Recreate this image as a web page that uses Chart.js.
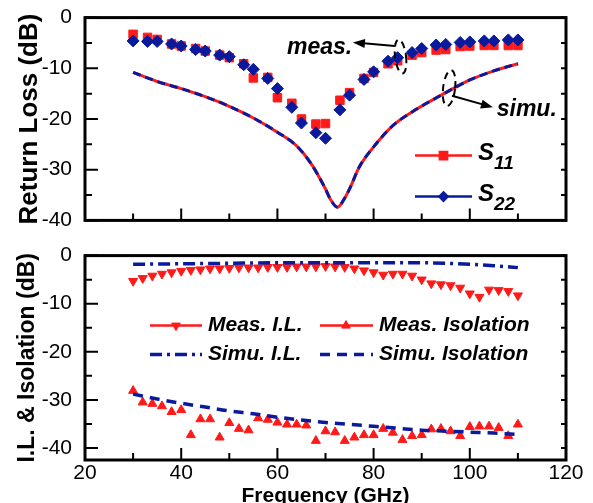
<!DOCTYPE html>
<html>
<head>
<meta charset="utf-8">
<script src="https://cdn.jsdelivr.net/npm/chart.js@4.4.0/dist/chart.umd.min.js"></script>
<style>
html, body { margin: 0; padding: 0; background: #fff; overflow: hidden; }
#wrap { position: relative; width: 593px; height: 503px; }
#topChart { position: absolute; left: 0; top: 0; }
#botChart { position: absolute; left: 0; top: 238px; }
</style>
</head>
<body>
<div id="wrap">
  <canvas id="topChart" width="593" height="238"></canvas>
  <canvas id="botChart" width="593" height="265"></canvas>
</div>
<script>
// return loss, measured
var measFreq = [30, 33, 35, 38, 40, 43, 45, 48, 50, 53, 55, 58, 60, 63, 65, 68, 70, 73, 75, 78, 80, 83, 85, 88, 90, 93, 95, 98, 100, 103, 105, 108, 110];
var s11Meas = [-3.3, -3.9, -4.3, -5.2, -5.6, -6.1, -6.6, -7.4, -7.9, -9.1, -11.9, -11.8, -15.8, -16.9, -20.0, -21.0, -20.9, -16.3, -14.8, -12.0, -10.8, -9.1, -8.5, -7.4, -6.9, -6.4, -6.3, -5.7, -5.6, -5.5, -5.5, -5.5, -5.5];
var s22Meas = [-4.6, -4.7, -4.7, -5.2, -5.6, -6.3, -6.6, -7.4, -7.7, -9.3, -10.2, -12.0, -14.0, -17.7, -20.8, -22.7, -23.8, -18.2, -15.3, -12.2, -10.7, -8.6, -7.9, -6.9, -6.1, -5.4, -5.3, -4.9, -4.8, -4.6, -4.6, -4.4, -4.4];

// return loss, simulated
var simuFreq = [30, 35, 40, 45, 50, 55, 60, 64, 67, 70, 71, 72.5, 74, 75, 77, 80, 84, 88, 95, 100, 105, 110];
var s11Simu = [-10.8, -12.6, -14.0, -15.6, -17.5, -19.8, -22.6, -25.3, -28.8, -33.8, -35.8, -37.4, -35.6, -33.8, -29.5, -25.5, -21.3, -18.6, -14.8, -12.3, -10.5, -9.1];
var s22Simu = [-10.8, -12.6, -14.0, -15.6, -17.5, -19.8, -22.6, -25.3, -28.8, -33.8, -35.8, -37.4, -35.6, -33.8, -29.5, -25.5, -21.3, -18.6, -14.8, -12.3, -10.5, -9.1];

// insertion loss / isolation, measured
var ilFreq = [30, 32, 34, 36, 38, 40, 42, 44, 46, 48, 50, 52, 54, 56, 58, 60, 62, 64, 66, 68, 70, 72, 74, 76, 78, 80, 82, 84, 86, 88, 90, 92, 94, 96, 98, 100, 102, 104, 106, 108, 110];
var measIL = [-5.3, -4.7, -4.2, -3.8, -3.5, -3.2, -3.0, -2.9, -2.7, -2.7, -2.6, -2.5, -2.5, -2.5, -2.4, -2.4, -2.4, -2.3, -2.3, -2.3, -2.2, -2.3, -2.4, -2.7, -3.1, -3.5, -4.0, -3.8, -3.8, -4.2, -5.0, -5.8, -6.0, -6.2, -6.7, -7.9, -8.6, -7.1, -7.2, -7.4, -8.3];
var measIso = [-28.1, -30.5, -30.8, -31.3, -32.5, -32.1, -37.3, -34.0, -34.0, -37.8, -34.8, -36.0, -36.3, -33.8, -34.1, -34.7, -35.1, -35.1, -35.3, -38.5, -36.5, -36.7, -38.5, -37.8, -37.3, -37.3, -36.0, -36.8, -38.3, -37.5, -37.3, -36.1, -36.0, -36.5, -37.5, -35.6, -35.5, -35.5, -35.8, -37.5, -35.1];

// insertion loss / isolation, simulated
var simuIlFreq = [30, 40, 50, 60, 70, 80, 90, 95, 100, 105, 110];
var simuIL = [-1.8, -1.7, -1.6, -1.5, -1.5, -1.5, -1.5, -1.6, -1.8, -2.1, -2.5];
var simuIsoFreq = [30, 35, 40, 45, 50, 55, 60, 65, 70, 75, 80, 85, 90, 95, 100, 105, 110];
var simuIso = [-28.8, -29.8, -30.7, -31.5, -32.3, -32.9, -33.6, -34.2, -34.7, -35.1, -35.5, -35.9, -36.3, -36.5, -36.7, -36.9, -37.2];

var xTicks = [20, 40, 60, 80, 100, 120];
var yTicks = [0, -10, -20, -30, -40];

var RED = '#ff1a1a';
var BLUE = '#0a1a9c';
var FONT = '"Liberation Sans", Arial, sans-serif';

function pts(xs, ys) {
    return xs.map(function (x, i) { return { x: x, y: ys[i] }; });
}

// box, inward ticks on left/bottom/right
var framePlugin = {
    id: 'frame',
    afterDraw: function (chart) {
        var ctx = chart.ctx, a = chart.chartArea;
        var xs = chart.scales.x, ys = chart.scales.y;
        ctx.save();
        ctx.strokeStyle = '#000';
        ctx.lineWidth = 2;
        ctx.beginPath();
        for (var f = 20; f <= 120; f += 10) {
            var x = xs.getPixelForValue(f);
            ctx.moveTo(x, a.bottom);
            ctx.lineTo(x, a.bottom - (f % 20 === 0 ? 12 : 7));
        }
        for (var v = 0; v >= ys.min; v -= 5) {
            var y = ys.getPixelForValue(v);
            ctx.moveTo(a.left, y);
            ctx.lineTo(a.left + (v % 10 === 0 ? 13 : 7), y);
            ctx.moveTo(a.right, y);
            ctx.lineTo(a.right - 5, y);
        }
        ctx.stroke();
        ctx.lineWidth = 3;
        ctx.strokeRect(a.left, a.top, a.right - a.left, a.bottom - a.top);
        ctx.restore();
    }
};

function legendLine(ctx, x1, x2, y, color, dash, width) {
    ctx.save();
    ctx.strokeStyle = color;
    ctx.lineWidth = width;
    ctx.setLineDash(dash);
    ctx.beginPath();
    ctx.moveTo(x1, y);
    ctx.lineTo(x2, y);
    ctx.stroke();
    ctx.restore();
}

function legendMarker(ctx, style, r, rot, x, y, color) {
    ctx.save();
    ctx.fillStyle = color;
    ctx.strokeStyle = color;
    Chart.helpers.drawPoint(ctx, { pointStyle: style, radius: r, rotation: rot, borderWidth: 1 }, x, y);
    ctx.restore();
}

function arrow(ctx, x1, y1, x2, y2) {
    var ang = Math.atan2(y2 - y1, x2 - x1);
    ctx.beginPath();
    ctx.moveTo(x1, y1);
    ctx.lineTo(x2 - Math.cos(ang) * 8, y2 - Math.sin(ang) * 8);
    ctx.stroke();
    ctx.beginPath();
    ctx.moveTo(x2, y2);
    ctx.lineTo(x2 - Math.cos(ang) * 12 + Math.sin(ang) * 4.5, y2 - Math.sin(ang) * 12 - Math.cos(ang) * 4.5);
    ctx.lineTo(x2 - Math.cos(ang) * 12 - Math.sin(ang) * 4.5, y2 - Math.sin(ang) * 12 + Math.cos(ang) * 4.5);
    ctx.closePath();
    ctx.fill();
}

function dashedEllipse(ctx, x, y, rx, ry, rot) {
    ctx.save();
    ctx.setLineDash([7, 5]);
    ctx.beginPath();
    ctx.ellipse(x, y, rx, ry, rot, 0, Math.PI * 2);
    ctx.stroke();
    ctx.restore();
}

var topDecor = {
    id: 'topDecor',
    afterDraw: function (chart) {
        var ctx = chart.ctx, a = chart.chartArea;
        var xs = chart.scales.x, ys = chart.scales.y;
        function X(f) { return xs.getPixelForValue(f); }
        function Y(v) { return ys.getPixelForValue(v); }
        ctx.save();
        ctx.fillStyle = '#000';
        ctx.strokeStyle = '#000';
        ctx.lineWidth = 2;
        ctx.textBaseline = 'middle';
        ctx.textAlign = 'left';
        ctx.font = 'italic bold 23px ' + FONT;
        ctx.fillText('meas.', X(62), Y(-6.0));
        arrow(ctx, X(84.4), Y(-5.6), X(75.7), Y(-4.9));
        dashedEllipse(ctx, X(85.6), Y(-7.7), 5.5, 17, -0.12);
        ctx.fillText('simu.', X(105.6), Y(-18.2));
        arrow(ctx, X(96.3), Y(-15.4), X(104.8), Y(-17.7));
        dashedEllipse(ctx, X(95.7), Y(-13.9), 6, 18, 0.12);

        // legend
        var lx1 = a.right - 151, lx2 = a.right - 94, tx = a.right - 88;
        var r1 = a.top + 138, r2 = a.top + 179;
        legendLine(ctx, lx1, lx2, r1, RED, [], 2.5);
        legendMarker(ctx, 'rect', 5.5, 0, (lx1 + lx2) / 2, r1, RED);
        legendLine(ctx, lx1, lx2, r2, BLUE, [], 2.5);
        legendMarker(ctx, 'rectRot', 4.5, 0, (lx1 + lx2) / 2, r2, BLUE);
        ctx.fillStyle = '#000';
        ctx.font = 'italic bold 24px ' + FONT;
        ctx.fillText('S', tx, r1 - 2);
        ctx.fillText('S', tx, r2 - 2);
        var sw = ctx.measureText('S').width;
        ctx.font = 'italic bold 19px ' + FONT;
        ctx.fillText('11', tx + sw, r1 + 8);
        ctx.fillText('22', tx + sw, r2 + 8);
        ctx.restore();
    }
};

var botDecor = {
    id: 'botDecor',
    afterDraw: function (chart) {
        var ctx = chart.ctx, a = chart.chartArea;
        var r1 = a.top + 70, r2 = a.top + 99;
        var c1 = a.left + 65, c2 = a.left + 235;
        ctx.save();
        legendLine(ctx, c1, c1 + 52, r1, RED, [], 2.5);
        legendMarker(ctx, 'triangle', 5, 180, c1 + 26, r1, RED);
        legendLine(ctx, c2, c2 + 53, r1, RED, [], 2.5);
        legendMarker(ctx, 'triangle', 5, 0, c2 + 26, r1, RED);
        legendLine(ctx, c1, c1 + 52, r2, BLUE, [12, 5, 3, 5], 3.5);
        legendLine(ctx, c2, c2 + 53, r2, BLUE, [10, 7], 3.5);
        ctx.fillStyle = '#000';
        ctx.textBaseline = 'middle';
        ctx.textAlign = 'left';
        ctx.font = 'italic bold 21px ' + FONT;
        ctx.fillText('Meas. I.L.', c1 + 58, r1);
        ctx.fillText('Meas. Isolation', c2 + 59, r1);
        ctx.fillText('Simu. I.L.', c1 + 58, r2);
        ctx.fillText('Simu. Isolation', c2 + 59, r2);
        ctx.restore();
    }
};

function yAxis(title, titleSize, min) {
    return {
        type: 'linear',
        min: min,
        max: 0,
        afterFit: function (s) { s.width = 85; },
        afterBuildTicks: function (s) { s.ticks = yTicks.map(function (v) { return { value: v }; }); },
        grid: { display: false },
        border: { display: false },
        ticks: { color: '#000', padding: 5, font: { family: FONT, size: 21 } },
        title: {
            display: true, text: title, color: '#000',
            font: { family: FONT, size: titleSize, weight: 'bold' },
            padding: { top: 14, bottom: 0 }
        }
    };
}

Chart.defaults.animation = false;

new Chart(document.getElementById('topChart').getContext('2d'), {
    type: 'line',
    data: {
        datasets: [
            { data: pts(measFreq, s22Meas), showLine: false, pointStyle: 'rectRot', pointRadius: 6, backgroundColor: BLUE, borderColor: BLUE, order: 1 },
            { data: pts(measFreq, s11Meas), showLine: false, pointStyle: 'rect', pointRadius: 6, backgroundColor: RED, borderColor: RED, order: 2 },
            { data: pts(simuFreq, s22Simu), borderColor: BLUE, borderWidth: 3, borderDash: [8, 5], pointRadius: 0, cubicInterpolationMode: 'monotone', order: 3 },
            { data: pts(simuFreq, s11Simu), borderColor: RED, borderWidth: 3, pointRadius: 0, cubicInterpolationMode: 'monotone', order: 4 }
        ]
    },
    options: {
        responsive: false,
        layout: { padding: { top: 14, right: 27, bottom: 11, left: 0 } },
        plugins: { legend: { display: false }, tooltip: { enabled: false } },
        scales: {
            x: { type: 'linear', min: 20, max: 120, display: false },
            y: yAxis('Return Loss (dB)', 26, -40)
        }
    },
    plugins: [framePlugin, topDecor]
});

new Chart(document.getElementById('botChart').getContext('2d'), {
    type: 'line',
    data: {
        datasets: [
            { data: pts(simuIlFreq, simuIL), borderColor: BLUE, borderWidth: 3.5, borderDash: [12, 5, 3, 5], pointRadius: 0, cubicInterpolationMode: 'monotone', order: 1 },
            { data: pts(simuIsoFreq, simuIso), borderColor: BLUE, borderWidth: 3.5, borderDash: [10, 7], pointRadius: 0, cubicInterpolationMode: 'monotone', order: 2 },
            { data: pts(ilFreq, measIL), showLine: false, pointStyle: 'triangle', rotation: 180, pointRadius: 5.2, backgroundColor: RED, borderColor: RED, order: 3 },
            { data: pts(ilFreq, measIso), showLine: false, pointStyle: 'triangle', pointRadius: 5.2, backgroundColor: RED, borderColor: RED, order: 4 }
        ]
    },
    options: {
        responsive: false,
        layout: { padding: { top: 10, right: 27, bottom: 0, left: 0 } },
        plugins: { legend: { display: false }, tooltip: { enabled: false } },
        scales: {
            x: {
                type: 'linear', min: 20, max: 120,
                afterFit: function (s) { s.height = 43; },
                afterBuildTicks: function (s) { s.ticks = xTicks.map(function (v) { return { value: v }; }); },
                grid: { display: false },
                border: { display: false },
                ticks: { color: '#000', padding: -7, maxRotation: 0, font: { family: FONT, size: 21 } },
                title: {
                    display: true, text: 'Frequency (GHz)', color: '#000',
                    font: { family: FONT, size: 21, weight: 'bold', lineHeight: 0.6 },
                    padding: { top: 0, bottom: 0 }
                }
            },
            y: yAxis('I.L. & Isolation (dB)', 23, -42.5)
        }
    },
    plugins: [framePlugin, botDecor]
});
</script>
</body>
</html>
